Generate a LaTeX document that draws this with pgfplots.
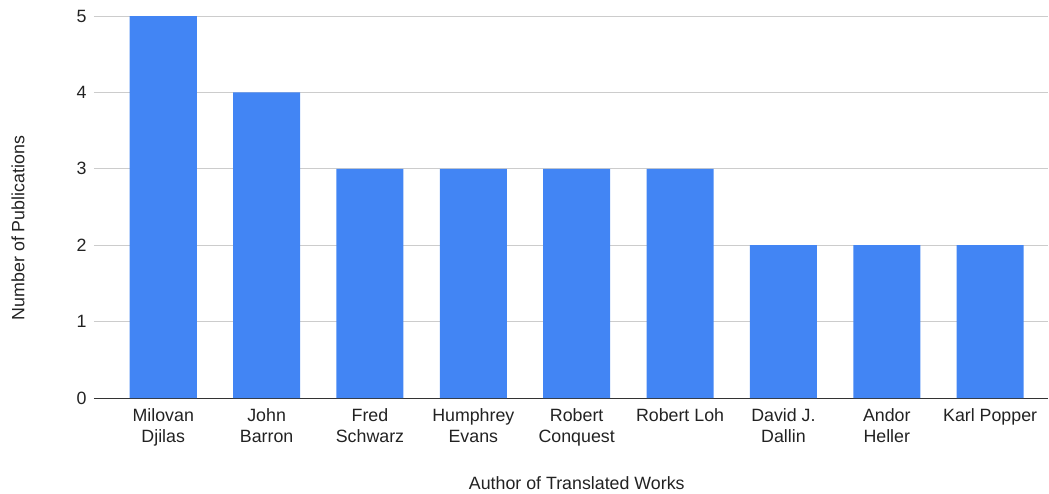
\documentclass[border=0pt]{standalone}
\usepackage{pgfplots}
\pgfplotsset{compat=1.18}
\usepackage{fontspec}
\setmainfont{Liberation Sans}
\definecolor{barblue}{HTML}{4285F4}
\definecolor{gridgray}{HTML}{CCCCCC}
\definecolor{txt}{HTML}{222222}
\begin{document}
\begin{tikzpicture}[x=1pt,y=1pt]
\useasboundingbox (0,0) rectangle (1049,493);
\begin{axis}[
  at={(94pt,95pt)}, anchor=south west,
  scale only axis, width=954pt, height=382pt,
  xmin=-0.67, xmax=8.56, ymin=0, ymax=5,
  ybar, bar width=67pt,
  axis x line*=bottom, axis y line*=left,
  x axis line style={draw=black!80, line width=1pt, -},
  y axis line style={draw=none},
  ymajorgrids, grid style={gridgray, line width=0.8pt},
  ytick={0,1,2,3,4,5},
  xtick={0,...,8},
  xticklabels={{Milovan\\Djilas},{John\\Barron},{Fred\\Schwarz},{Humphrey\\Evans},{Robert\\Conquest},{Robert Loh},{David J.\\Dallin},{Andor\\Heller},{Karl Popper}},
  major tick length=0pt,
  tick style={draw=none},
  tick label style={font=\fontsize{17.8}{21.5}\selectfont, text=txt},
  xticklabel style={align=center, anchor=north, yshift=-7pt},
  yticklabel style={anchor=east, xshift=-4pt},
  /pgf/number format/assume math mode=true,
  xlabel={Author of Translated Works},
  ylabel={Number of Publications},
  label style={font=\fontsize{17.8}{20.5}\selectfont, text=txt},
  xlabel style={at={(axis description cs:0.506,-0.2225)}, anchor=center},
  ylabel style={at={(axis description cs:-0.0797,0.445)}, anchor=center},
  clip=false,
]
\addplot[fill=barblue, draw=none] coordinates {(0,5) (1,4) (2,3) (3,3) (4,3) (5,3) (6,2) (7,2) (8,2)};
\end{axis}
\end{tikzpicture}
\end{document}
